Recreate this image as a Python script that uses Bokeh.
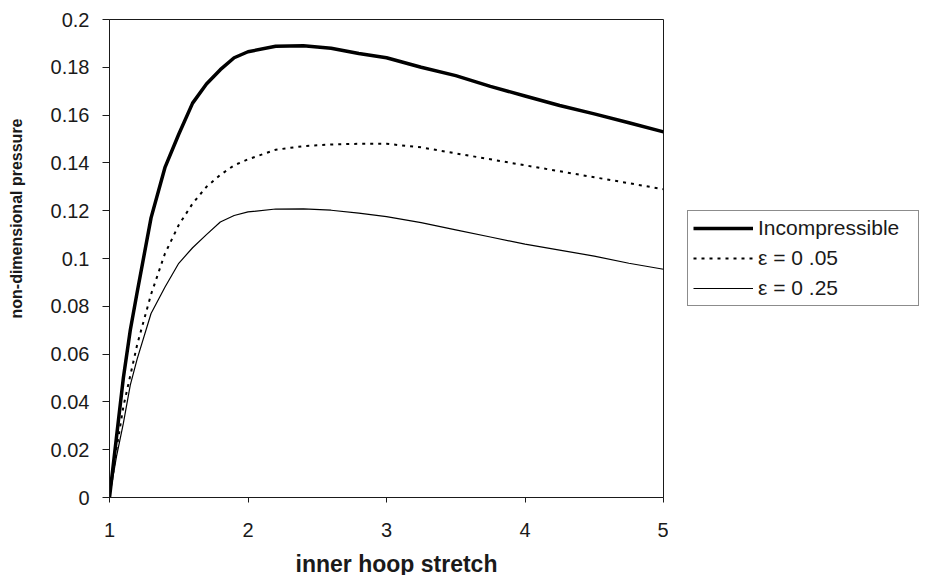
import math
from bokeh.plotting import figure
from bokeh.layouts import row, column
from bokeh.models import Range1d, FixedTicker, Legend, LegendItem, Label
from bokeh.embed import file_html
from bokeh.resources import INLINE

# ---- data ----
stretch = [1.0, 1.05, 1.1, 1.15, 1.2, 1.3, 1.4, 1.5, 1.6, 1.7, 1.8, 1.9, 2.0,
           2.2, 2.4, 2.6, 2.8, 3.0, 3.25, 3.5, 3.75, 4.0, 4.25, 4.5, 4.75, 5.0]
incompressible = [0.0, 0.025, 0.050, 0.070, 0.086, 0.117, 0.138, 0.152, 0.165, 0.173,
                  0.179, 0.184, 0.1865, 0.1888, 0.189, 0.188, 0.1858, 0.184, 0.180,
                  0.1765, 0.172, 0.168, 0.164, 0.1605, 0.1568, 0.153]
eps_005 = [0.0, 0.020, 0.038, 0.051, 0.064, 0.085, 0.102, 0.114, 0.123, 0.130,
           0.135, 0.139, 0.1415, 0.1455, 0.147, 0.1477, 0.148, 0.148, 0.1465,
           0.144, 0.1415, 0.139, 0.1365, 0.134, 0.1315, 0.129]
eps_025 = [0.0, 0.017, 0.031, 0.047, 0.058, 0.077, 0.088, 0.098, 0.1045, 0.110,
           0.1153, 0.118, 0.1195, 0.1207, 0.1208, 0.1202, 0.119, 0.1175, 0.115,
           0.112, 0.109, 0.106, 0.1035, 0.101, 0.098, 0.0955]

series_labels = ["Incompressible", "\u03b5 = 0 .05", "\u03b5 = 0 .25"]
x_ticks = [1, 2, 3, 4, 5]
y_ticks = [0.0, 0.02, 0.04, 0.06, 0.08, 0.10, 0.12, 0.14, 0.16, 0.18, 0.20]
y_tick_labels = ["0", "0.02", "0.04", "0.06", "0.08", "0.1", "0.12", "0.14", "0.16", "0.18", "0.2"]
x_title = "inner hoop stretch"
y_title = "non-dimensional pressure"

FONT = "Liberation Sans"
INK = "#1a1a1a"
styles = [dict(line_color="black", line_width=3.5),
          dict(line_color="black", line_width=2, line_dash="3 5"),
          dict(line_color="black", line_width=1.2)]

TOP_H = 547
FRAME_BOTTOM = 497  # frames in the top row share the plot box's vertical extent


def blank(width, height):
    f = figure(width=width, height=height, output_backend="svg", toolbar_location=None,
               x_axis_type=None, y_axis_type=None, x_range=Range1d(0, 1), y_range=Range1d(0, 1),
               min_border=0, outline_line_color=None)
    f.grid.visible = False
    f.border_fill_color = "white"
    f.background_fill_color = "white"
    return f


# ---- main plot ----
p = figure(width=638, height=TOP_H, output_backend="svg", toolbar_location=None,
           x_range=Range1d(1, 5), y_range=Range1d(0, 0.2),
           min_border_left=79, min_border_right=5, min_border_top=19,
           min_border_bottom=TOP_H - 19 - 478)
p.grid.visible = False
p.outline_line_color = INK
p.outline_line_width = 1
p.background_fill_color = "white"
p.border_fill_color = "white"

p.xaxis.ticker = FixedTicker(ticks=x_ticks)
p.yaxis.ticker = FixedTicker(ticks=y_ticks)
p.yaxis.major_label_overrides = {t: s for t, s in zip(y_ticks, y_tick_labels)}
p.xaxis.major_label_overrides = {t: str(t) for t in x_ticks}
for ax in (p.xaxis, p.yaxis):
    ax.axis_line_color = INK
    ax.major_tick_line_color = INK
    ax.minor_tick_line_color = None
    ax.major_tick_in = 0
    ax.major_label_text_font = FONT
    ax.major_label_text_font_size = "20px"
    ax.major_label_text_color = INK
p.xaxis.major_tick_out = 5
p.xaxis.major_label_standoff = 20
p.yaxis.major_tick_out = 7
p.yaxis.major_label_standoff = 13

p.line(stretch, incompressible, **styles[0])
p.line(stretch, eps_005, **styles[1])
p.line(stretch, eps_025, **styles[2])

# ---- y-axis title strip ----
yt = blank(30, TOP_H)
yt.add_layout(Label(x=16, y=FRAME_BOTTOM - 218, x_units="screen", y_units="screen", text=y_title,
                    angle=math.pi / 2, text_align="center", text_baseline="middle",
                    text_font=FONT, text_font_style="bold", text_font_size="16px",
                    text_color=INK))

# ---- legend strip ----
q = blank(257, TOP_H)
nan = float("nan")
proxies = [q.line([nan], [nan], **s) for s in styles]
legend = Legend(items=[LegendItem(label=lab, renderers=[r]) for lab, r in zip(series_labels, proxies)],
                location=(19, FRAME_BOTTOM - 306))
legend.border_line_color = INK
legend.border_line_width = 1
legend.background_fill_color = "white"
legend.background_fill_alpha = 1
legend.label_text_font = FONT
legend.label_text_font_size = "21px"
legend.label_text_color = INK
legend.glyph_width = 60
legend.glyph_height = 22
legend.label_standoff = 5
legend.label_width = 155
legend.spacing = 6
legend.padding = 5
legend.margin = 0
q.add_layout(legend)

# ---- x-axis title strip ----
xt = blank(925, 575 - TOP_H)
xt.add_layout(Label(x=396, y=(575 - TOP_H) - (563 - TOP_H), x_units="screen", y_units="screen",
                    text=x_title, text_align="center", text_baseline="middle",
                    text_font=FONT, text_font_style="bold", text_font_size="23px",
                    text_color=INK))

layout = column(row(yt, p, q, spacing=0), xt, spacing=0)
open("out.html", "w").write(file_html(layout, INLINE))
